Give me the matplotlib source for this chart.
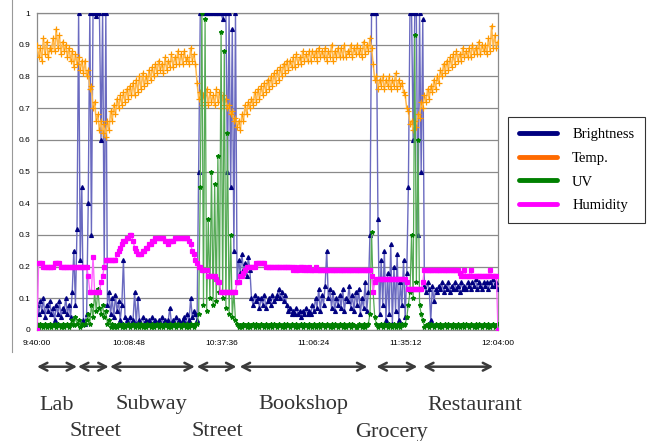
import numpy as np
import matplotlib
matplotlib.use("Agg")
import matplotlib.pyplot as plt
from matplotlib.lines import Line2D

# ---------------- data (sampled every 0.5 min from 9:40:00) ----------------
minutes = np.arange(0, 144.5, 0.5)

brightness = [
    0.08, 0.05, 0.09, 0.06, 0.10, 0.04, 0.08, 0.06, 0.09, 0.05,
    0.07, 0.03, 0.08, 0.05, 0.09, 0.04, 0.07, 0.06, 0.10, 0.05,
    0.08, 0.04, 0.12, 0.25, 0.08, 0.32, 1.00, 0.22, 0.45, 0.03,
    0.02, 0.05, 0.40, 1.00, 0.30, 1.00, 1.00, 0.99, 1.00, 1.00,
    0.60, 1.00, 0.20, 1.00, 0.08, 0.12, 0.05, 0.10, 0.04, 0.11,
    0.06, 0.09, 0.03, 0.08, 0.22, 0.04, 0.03, 0.02, 0.04, 0.02,
    0.03, 0.12, 0.02, 0.10, 0.03, 0.02, 0.04, 0.02, 0.03, 0.02,
    0.03, 0.02, 0.04, 0.02, 0.03, 0.02, 0.03, 0.02, 0.04, 0.02,
    0.03, 0.02, 0.03, 0.07, 0.02, 0.03, 0.02, 0.04, 0.02, 0.03,
    0.02, 0.03, 0.04, 0.02, 0.05, 0.03, 0.10, 0.04, 0.06, 0.05,
    0.03, 0.50, 1.00, 1.00, 1.00, 1.00, 1.00, 1.00, 1.00, 1.00,
    1.00, 1.00, 1.00, 1.00, 1.00, 1.00, 0.98, 1.00, 1.00, 0.50,
    1.00, 0.45, 0.95, 0.25, 1.00, 0.15, 0.22, 0.18, 0.24, 0.19,
    0.21, 0.17, 0.23, 0.19, 0.10, 0.08, 0.11, 0.09, 0.10, 0.07,
    0.10, 0.08, 0.11, 0.07, 0.09, 0.10, 0.08, 0.11, 0.09, 0.10,
    0.11, 0.13, 0.10, 0.12, 0.09, 0.11, 0.08, 0.06, 0.07, 0.05,
    0.06, 0.05, 0.07, 0.05, 0.06, 0.04, 0.06, 0.05, 0.07, 0.05,
    0.06, 0.05, 0.08, 0.06, 0.10, 0.07, 0.13, 0.06, 0.11, 0.08,
    0.14, 0.25, 0.10, 0.13, 0.07, 0.12, 0.06, 0.10, 0.08, 0.11,
    0.07, 0.13, 0.06, 0.10, 0.09, 0.14, 0.07, 0.11, 0.06, 0.12,
    0.08, 0.13, 0.05, 0.10, 0.07, 0.15, 0.06, 0.12, 0.30, 1.00,
    1.00, 1.00, 1.00, 0.35, 0.05, 0.22, 0.08, 0.25, 0.03, 0.18,
    0.05, 0.27, 0.02, 0.20, 0.06, 0.24, 0.03, 0.15, 0.08, 0.22,
    0.04, 0.18, 0.45, 1.00, 1.00, 0.60, 1.00, 1.00, 0.30, 1.00,
    0.50, 0.98, 0.14, 0.12, 0.15, 0.13, 0.03, 0.14, 0.09, 0.13,
    0.12, 0.14, 0.13, 0.15, 0.12, 0.14, 0.13, 0.15, 0.12, 0.14,
    0.13, 0.15, 0.13, 0.14, 0.12, 0.15, 0.13, 0.14, 0.13, 0.15,
    0.14, 0.13, 0.15, 0.14, 0.16, 0.13, 0.15, 0.14, 0.13, 0.15,
    0.14, 0.15, 0.13, 0.15, 0.14, 0.16, 0.14, 0.15, 0.13,
]

temperature = [
    0.90, 0.86, 0.89, 0.85, 0.92, 0.87, 0.91, 0.86, 0.89, 0.88,
    0.92, 0.88, 0.95, 0.89, 0.93, 0.87, 0.91, 0.88, 0.90, 0.86,
    0.89, 0.85, 0.88, 0.83, 0.87, 0.84, 0.86, 0.82, 0.85, 0.81,
    0.85, 0.80, 0.82, 0.76, 0.77, 0.70, 0.72, 0.66, 0.68, 0.63,
    0.66, 0.62, 0.65, 0.61, 0.66, 0.63, 0.69, 0.66, 0.71, 0.68,
    0.73, 0.70, 0.74, 0.71, 0.75, 0.72, 0.76, 0.73, 0.77, 0.74,
    0.78, 0.74, 0.79, 0.75, 0.80, 0.76, 0.81, 0.77, 0.80, 0.78,
    0.82, 0.79, 0.83, 0.80, 0.84, 0.81, 0.85, 0.82, 0.84, 0.81,
    0.86, 0.82, 0.85, 0.83, 0.87, 0.83, 0.86, 0.84, 0.88, 0.84,
    0.87, 0.84, 0.88, 0.85, 0.86, 0.84, 0.89, 0.85, 0.87, 0.84,
    0.78, 0.73, 0.75, 0.71, 0.74, 0.72, 0.76, 0.71, 0.75, 0.72,
    0.74, 0.71, 0.76, 0.72, 0.75, 0.70, 0.74, 0.71, 0.73, 0.70,
    0.71, 0.68, 0.69, 0.66, 0.67, 0.64, 0.66, 0.63, 0.68, 0.66,
    0.71, 0.68, 0.72, 0.70, 0.73, 0.71, 0.75, 0.72, 0.76, 0.73,
    0.77, 0.74, 0.78, 0.75, 0.79, 0.76, 0.80, 0.77, 0.81, 0.78,
    0.82, 0.79, 0.83, 0.80, 0.84, 0.81, 0.85, 0.82, 0.85, 0.83,
    0.86, 0.83, 0.87, 0.84, 0.86, 0.84, 0.88, 0.85, 0.87, 0.85,
    0.88, 0.85, 0.88, 0.86, 0.88, 0.85, 0.89, 0.86, 0.88, 0.86,
    0.89, 0.85, 0.88, 0.86, 0.90, 0.85, 0.88, 0.86, 0.89, 0.86,
    0.89, 0.86, 0.90, 0.86, 0.88, 0.87, 0.90, 0.86, 0.89, 0.87,
    0.90, 0.87, 0.89, 0.86, 0.91, 0.87, 0.90, 0.88, 0.92, 0.89,
    0.84, 0.79, 0.80, 0.76, 0.79, 0.77, 0.80, 0.76, 0.79, 0.77,
    0.80, 0.76, 0.79, 0.77, 0.81, 0.76, 0.79, 0.77, 0.78, 0.75,
    0.74, 0.70, 0.69, 0.65, 0.66, 0.63, 0.66, 0.64, 0.68, 0.67,
    0.72, 0.70, 0.74, 0.72, 0.76, 0.73, 0.77, 0.75, 0.79, 0.76,
    0.80, 0.78, 0.82, 0.80, 0.84, 0.81, 0.85, 0.82, 0.86, 0.83,
    0.87, 0.84, 0.88, 0.85, 0.87, 0.85, 0.89, 0.86, 0.88, 0.86,
    0.89, 0.86, 0.90, 0.87, 0.89, 0.87, 0.91, 0.87, 0.90, 0.88,
    0.90, 0.87, 0.92, 0.88, 0.96, 0.89, 0.93, 0.89, 0.91,
]

uv = [
    0.02, 0.01, 0.02, 0.015, 0.01, 0.02, 0.01, 0.015, 0.02, 0.01,
    0.015, 0.02, 0.01, 0.02, 0.015, 0.01, 0.02, 0.01, 0.015, 0.02,
    0.01, 0.02, 0.03, 0.015, 0.04, 0.02, 0.03, 0.01, 0.02, 0.015,
    0.02, 0.03, 0.05, 0.02, 0.08, 0.04, 0.12, 0.06, 0.13, 0.07,
    0.05, 0.08, 0.04, 0.06, 0.02, 0.03, 0.01, 0.02, 0.01, 0.015,
    0.01, 0.02, 0.015, 0.01, 0.02, 0.01, 0.015, 0.02, 0.01, 0.015,
    0.02, 0.01, 0.015, 0.02, 0.01, 0.02, 0.01, 0.015, 0.01, 0.02,
    0.015, 0.01, 0.02, 0.01, 0.015, 0.02, 0.01, 0.02, 0.015, 0.01,
    0.02, 0.015, 0.01, 0.02, 0.01, 0.015, 0.02, 0.01, 0.02, 0.015,
    0.01, 0.02, 0.015, 0.01, 0.02, 0.01, 0.02, 0.015, 0.01, 0.02,
    0.02, 0.05, 0.45, 1.00, 0.08, 0.98, 0.06, 0.35, 0.10, 0.50,
    0.08, 0.46, 0.09, 0.55, 0.12, 0.94, 0.10, 0.88, 0.07, 0.62,
    0.05, 0.30, 0.04, 0.12, 0.03, 0.02, 0.01, 0.015, 0.01, 0.02,
    0.015, 0.01, 0.02, 0.01, 0.015, 0.02, 0.01, 0.02, 0.015, 0.01,
    0.02, 0.015, 0.01, 0.02, 0.01, 0.015, 0.02, 0.01, 0.02, 0.015,
    0.01, 0.02, 0.015, 0.01, 0.02, 0.01, 0.02, 0.015, 0.01, 0.02,
    0.015, 0.01, 0.02, 0.01, 0.015, 0.02, 0.01, 0.02, 0.015, 0.01,
    0.02, 0.015, 0.01, 0.02, 0.01, 0.015, 0.02, 0.01, 0.02, 0.015,
    0.01, 0.02, 0.015, 0.01, 0.02, 0.01, 0.02, 0.015, 0.01, 0.02,
    0.015, 0.01, 0.02, 0.01, 0.015, 0.02, 0.01, 0.02, 0.015, 0.01,
    0.01, 0.02, 0.015, 0.01, 0.02, 0.01, 0.015, 0.02, 0.05, 0.31,
    0.12, 0.04, 0.02, 0.01, 0.015, 0.02, 0.01, 0.02, 0.015, 0.01,
    0.02, 0.015, 0.01, 0.02, 0.01, 0.015, 0.02, 0.01, 0.02, 0.015,
    0.02, 0.04, 0.08, 0.12, 0.30, 0.10, 0.93, 0.15, 0.60, 0.08,
    0.05, 0.03, 0.01, 0.015, 0.02, 0.01, 0.02, 0.015, 0.01, 0.02,
    0.015, 0.01, 0.02, 0.01, 0.015, 0.02, 0.01, 0.02, 0.015, 0.01,
    0.02, 0.015, 0.01, 0.02, 0.01, 0.015, 0.02, 0.01, 0.02, 0.015,
    0.01, 0.02, 0.015, 0.01, 0.02, 0.01, 0.02, 0.015, 0.01, 0.02,
    0.015, 0.01, 0.02, 0.01, 0.015, 0.02, 0.01, 0.015, 0.02,
]

humidity = [
    0.00, 0.21, 0.21, 0.21, 0.20, 0.20, 0.20, 0.20, 0.20, 0.20,
    0.20, 0.21, 0.21, 0.21, 0.21, 0.20, 0.20, 0.20, 0.20, 0.20,
    0.20, 0.20, 0.20, 0.20, 0.20, 0.20, 0.20, 0.20, 0.20, 0.20,
    0.20, 0.20, 0.17, 0.12, 0.12, 0.23, 0.12, 0.12, 0.12, 0.12,
    0.15, 0.17, 0.20, 0.22, 0.22, 0.22, 0.22, 0.22, 0.22, 0.22,
    0.24, 0.25, 0.26, 0.27, 0.28, 0.28, 0.29, 0.29, 0.30, 0.30,
    0.28, 0.26, 0.25, 0.24, 0.24, 0.24, 0.25, 0.25, 0.26, 0.26,
    0.27, 0.27, 0.28, 0.28, 0.29, 0.29, 0.29, 0.29, 0.29, 0.29,
    0.28, 0.28, 0.27, 0.28, 0.28, 0.28, 0.29, 0.29, 0.29, 0.29,
    0.29, 0.29, 0.29, 0.29, 0.29, 0.28, 0.27, 0.25, 0.24, 0.22,
    0.21, 0.20, 0.20, 0.19, 0.19, 0.19, 0.19, 0.17, 0.17, 0.17,
    0.17, 0.17, 0.16, 0.15, 0.15, 0.12, 0.12, 0.12, 0.12, 0.12,
    0.12, 0.12, 0.12, 0.12, 0.12, 0.15, 0.15, 0.17, 0.17, 0.18,
    0.19, 0.20, 0.20, 0.20, 0.20, 0.20, 0.20, 0.21, 0.21, 0.21,
    0.21, 0.21, 0.21, 0.20, 0.20, 0.20, 0.20, 0.20, 0.20, 0.20,
    0.20, 0.20, 0.20, 0.20, 0.20, 0.20, 0.20, 0.20, 0.20, 0.20,
    0.19, 0.20, 0.19, 0.19, 0.20, 0.20, 0.19, 0.20, 0.19, 0.19,
    0.20, 0.19, 0.19, 0.19, 0.20, 0.19, 0.19, 0.19, 0.19, 0.19,
    0.19, 0.19, 0.19, 0.19, 0.19, 0.19, 0.19, 0.19, 0.19, 0.19,
    0.19, 0.19, 0.19, 0.19, 0.19, 0.19, 0.19, 0.19, 0.19, 0.19,
    0.19, 0.19, 0.19, 0.19, 0.19, 0.19, 0.19, 0.19, 0.19, 0.17,
    0.12, 0.15, 0.16, 0.16, 0.16, 0.16, 0.16, 0.16, 0.16, 0.16,
    0.16, 0.16, 0.16, 0.16, 0.16, 0.16, 0.16, 0.16, 0.16, 0.16,
    0.16, 0.15, 0.13, 0.13, 0.13, 0.13, 0.13, 0.13, 0.13, 0.13,
    0.13, 0.15, 0.19, 0.19, 0.19, 0.19, 0.19, 0.19, 0.19, 0.19,
    0.19, 0.19, 0.19, 0.19, 0.19, 0.19, 0.19, 0.19, 0.19, 0.19,
    0.19, 0.19, 0.19, 0.19, 0.18, 0.17, 0.17, 0.19, 0.17, 0.17,
    0.17, 0.19, 0.17, 0.17, 0.17, 0.17, 0.17, 0.17, 0.17, 0.17,
    0.17, 0.17, 0.17, 0.19, 0.17, 0.17, 0.17, 0.17, 0.00,
]

x_ticks = [0, 28.8, 57.6, 86.4, 115.2, 144]
x_tick_labels = ["9:40:00", "10:08:48", "10:37:36", "11:06:24", "11:35:12", "12:04:00"]
y_ticks = [0, 0.1, 0.2, 0.3, 0.4, 0.5, 0.6, 0.7, 0.8, 0.9, 1.0]
y_tick_labels = ["0", "0.1", "0.2", "0.3", "0.4", "0.5", "0.6", "0.7", "0.8", "0.9", "1"]

# activity segments (minutes after 9:40)
seg_names = ["Lab", "Street", "Subway", "Street", "Bookshop", "Grocery", "Restaurant"]
seg_start = [0.0, 12.8, 22.8, 49.9, 63.3, 106.0, 120.6]
seg_end = [12.5, 22.4, 49.3, 62.3, 103.2, 118.8, 142.5]
seg_label_x = [6.1, 18.2, 35.7, 56.3, 83.2, 110.8, 136.7]
seg_label_row = [0, 1, 0, 1, 0, 1, 0]

series_names = ["Brightness", "Temp.", "UV", "Humidity"]

# ---------------- drawing ----------------
W, H = 648, 441
fig = plt.figure(figsize=(W / 100, H / 100), dpi=100)
fig.patch.set_facecolor("white")

ax = fig.add_axes([37 / W, 1 - 330 / H, 461 / W, 317 / H])
ax.set_xlim(0, 144)
ax.set_ylim(0, 1)

ax.set_yticks(y_ticks)
ax.set_yticklabels(y_tick_labels)
ax.set_xticks(x_ticks)
ax.set_xticklabels(x_tick_labels)
ax.tick_params(length=0, labelsize=6, pad=5)
for lab in ax.get_xticklabels() + ax.get_yticklabels():
    lab.set_fontfamily("Liberation Sans")
ax.tick_params(axis="x", pad=7)
ax.yaxis.grid(True, color="#8a8a8a", lw=0.9)
ax.set_axisbelow(True)
for s in ax.spines.values():
    s.set_color("#8a8a8a")
    s.set_linewidth(0.9)

styles = [
    (brightness, "#000080", "#6a6ac0", "^", 2.8, 1.0),
    (temperature, "#FF9900", "#FFB84D", "+", 4.0, 1.1),
    (uv, "#008000", "#55AA55", "*", 3.2, 0.9),
    (humidity, "#FF00FF", "#FF66FF", "s", 2.4, 1.0),
]
for i, (vals, mcol, lcol, mk, ms, lw) in enumerate(styles):
    vals = np.asarray(vals)
    ax.plot(minutes, vals, color=lcol, lw=lw, zorder=3 + 2 * i)
    ax.plot(minutes, vals, ls="none", marker=mk, ms=ms, color=mcol,
            mec=mcol, mfc=mcol, mew=0.9, zorder=4 + 2 * i)

# legend
leg_colors = ["#000080", "#FF6A00", "#008000", "#FF00FF"]
handles = [Line2D([0], [0], color=c, lw=3.5, solid_capstyle="round") for c in leg_colors]
leg = fig.legend(handles, series_names, loc="upper left",
                 bbox_to_anchor=(508 / W, 1 - 117 / H),
                 prop={"family": "Liberation Serif", "size": 10.5},
                 frameon=True, fancybox=False, edgecolor="black",
                 handlelength=2.6, handletextpad=1.05, labelspacing=0.72,
                 borderpad=0.75, borderaxespad=0)
leg.get_frame().set_linewidth(0.8)

# outer chart frame line on the left
fig.add_artist(Line2D([12 / W, 12 / W], [1, 1 - 352 / H], transform=fig.transFigure,
                      color="#999999", lw=0.8))

# activity arrows and labels
arrow_y = 1 - 366.7 / H
row_y = [1 - 409.5 / H, 1 - 436.5 / H]
for name, a, b, lx, r in zip(seg_names, seg_start, seg_end, seg_label_x, seg_label_row):
    ax.annotate("", xy=(b, arrow_y), xytext=(a, arrow_y),
                xycoords=("data", "figure fraction"),
                textcoords=("data", "figure fraction"),
                arrowprops=dict(arrowstyle="<->,head_length=0.55,head_width=0.28",
                                color="#3a3a3a", lw=1.8, shrinkA=0, shrinkB=0),
                annotation_clip=False)
    ax.annotate(name, xy=(lx, row_y[r]), xycoords=("data", "figure fraction"),
                ha="center", va="baseline", fontsize=16, color="#333333",
                family="Liberation Serif", annotation_clip=False)

fig.savefig("out.png", dpi=100)
